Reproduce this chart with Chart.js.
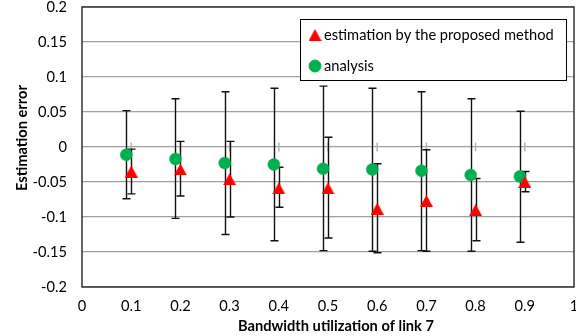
<!DOCTYPE html>
<html>
<head>
<meta charset="utf-8">
<script src="https://cdn.jsdelivr.net/npm/chart.js@4"></script>
<style>
  body { margin: 0; background: #fff; }
</style>
</head>
<body>
<canvas id="chart" width="576" height="336"></canvas>
<script>
// --- データ ---
const utilization = [0.1, 0.2, 0.3, 0.4, 0.5, 0.6, 0.7, 0.8, 0.9];

const estimation     = [-0.035, -0.032, -0.046, -0.059, -0.059, -0.088, -0.077, -0.090, -0.050];
const estimationLow  = [-0.067, -0.070, -0.100, -0.086, -0.130, -0.151, -0.149, -0.134, -0.064];
const estimationHigh = [-0.003, 0.008, 0.008, -0.029, 0.014, -0.024, -0.004, -0.045, -0.035];

const analysis     = [-0.011, -0.017, -0.023, -0.025, -0.031, -0.032, -0.034, -0.040, -0.042];
const analysisLow  = [-0.074, -0.102, -0.125, -0.134, -0.148, -0.149, -0.148, -0.149, -0.136];
const analysisHigh = [0.052, 0.069, 0.079, 0.084, 0.087, 0.084, 0.079, 0.069, 0.051];

// y=0 上の薄いグレーのマーク
const zeroMarks = [0, 0, 0, 0, 0, 0, 0, 0, 0];

const labels = ['estimation by the proposed method', 'analysis'];
const xTitle = 'Bandwidth utilization of link 7';
const yTitle = 'Estimation error';
// ---

const FONT = 'Lato';
const FONT_SIZE = 14.67;
const ANALYSIS_SHIFT = -0.01; // 緑の点は少し左にずれている

const RED = '#ff0000';
const GREEN = '#00b050';

// Excel風の三角マーカー (外接矩形の中心が値の位置)
function makeTriangle(w, h, color) {
    const c = document.createElement('canvas');
    c.width = w;
    c.height = h;
    const g = c.getContext('2d');
    g.fillStyle = color;
    g.beginPath();
    g.moveTo(w / 2, 0);
    g.lineTo(w, h);
    g.lineTo(0, h);
    g.closePath();
    g.fill();
    return c;
}
const triangleMarker = makeTriangle(13, 12, RED);

function toPoints(xs, ys, shift) {
    return xs.map((x, i) => ({ x: x + shift, y: ys[i] }));
}

// エラーバー (グレーのマークの後、点の前に描く)
const errorBarPlugin = {
    id: 'errorBars',
    afterDatasetDraw(chart, args) {
        if (args.index !== 2) return;
        const { ctx, scales: { x, y } } = chart;
        const bars = [
            { xs: utilization, shift: 0, low: estimationLow, high: estimationHigh },
            { xs: utilization, shift: ANALYSIS_SHIFT, low: analysisLow, high: analysisHigh }
        ];
        ctx.save();
        ctx.strokeStyle = '#111';
        ctx.lineWidth = 1.4;
        bars.forEach(b => {
            b.xs.forEach((v, i) => {
                const px = Math.round(x.getPixelForValue(v + b.shift)) + 0.5;
                const y1 = y.getPixelForValue(b.high[i]);
                const y2 = y.getPixelForValue(b.low[i]);
                ctx.beginPath();
                ctx.moveTo(px, y1);
                ctx.lineTo(px, y2);
                ctx.moveTo(px - 4, y1);
                ctx.lineTo(px + 4, y1);
                ctx.moveTo(px - 4, y2);
                ctx.lineTo(px + 4, y2);
                ctx.stroke();
            });
        });
        ctx.restore();
    }
};

// 枠線・軸タイトル・凡例
const framePlugin = {
    id: 'frame',
    afterDraw(chart) {
        const { ctx, chartArea: a } = chart;
        ctx.save();
        ctx.strokeStyle = '#333';
        ctx.lineWidth = 1.5;
        ctx.strokeRect(a.left, a.top, a.right - a.left, a.bottom - a.top);

        // 軸タイトル
        ctx.fillStyle = '#000';
        ctx.font = `bold ${FONT_SIZE}px ${FONT}`;
        ctx.textAlign = 'center';
        ctx.textBaseline = 'middle';
        ctx.fillText(xTitle, 336, 326);
        ctx.save();
        ctx.translate(22, 138);
        ctx.rotate(-Math.PI / 2);
        ctx.fillText(yTitle, 0, 0);
        ctx.restore();

        // 凡例
        const lx = 300.5, ly = 19.5, lw = 266, lh = 61;
        ctx.fillStyle = '#fff';
        ctx.fillRect(lx, ly, lw, lh);
        ctx.strokeStyle = '#000';
        ctx.lineWidth = 1;
        ctx.strokeRect(lx, ly, lw, lh);

        const rows = [35, 66];
        ctx.font = `${FONT_SIZE}px ${FONT}`;
        ctx.textAlign = 'left';
        [0, 1].forEach((di, k) => {
            const ds = chart.data.datasets[di];
            ctx.fillStyle = ds.backgroundColor;
            ctx.strokeStyle = ds.borderColor;
            Chart.helpers.drawPoint(ctx, {
                pointStyle: ds.pointStyle,
                radius: ds.pointRadius,
                borderWidth: ds.borderWidth,
                rotation: 0
            }, 315, rows[k]);
            ctx.fillStyle = '#000';
            ctx.fillText(labels[di], 324, rows[k]);
        });
        ctx.restore();
    }
};

new Chart(document.getElementById('chart'), {
    type: 'scatter',
    data: {
        datasets: [
            {
                label: labels[0],
                data: toPoints(utilization, estimation, 0),
                pointStyle: triangleMarker,
                pointRadius: 6.5,
                backgroundColor: RED,
                borderColor: RED,
                borderWidth: 0,
                order: 0
            },
            {
                label: labels[1],
                data: toPoints(utilization, analysis, ANALYSIS_SHIFT),
                pointStyle: 'circle',
                pointRadius: 6,
                backgroundColor: GREEN,
                borderColor: GREEN,
                borderWidth: 0.5,
                order: 1
            },
            {
                label: 'zero',
                data: toPoints(utilization, zeroMarks, 0),
                pointStyle: 'line',
                rotation: 90,
                pointRadius: 4.5,
                borderColor: '#b4b4b4',
                borderWidth: 1.5,
                order: 2
            }
        ]
    },
    options: {
        responsive: false,
        devicePixelRatio: 1,
        animation: false,
        layout: { autoPadding: false, padding: { top: 7, right: 2, left: 0, bottom: 0 } },
        plugins: {
            legend: { display: false },
            tooltip: { enabled: false }
        },
        scales: {
            x: {
                type: 'linear',
                min: 0,
                max: 1,
                ticks: {
                    stepSize: 0.1,
                    padding: 10,
                    color: '#000',
                    font: { family: FONT, size: FONT_SIZE },
                    maxRotation: 0,
                    callback: v => String(parseFloat(v.toFixed(1)))
                },
                grid: { display: false, drawTicks: false },
                border: { display: false },
                afterFit: s => { s.height = 49; s.paddingLeft = 0; s.paddingRight = 0; }
            },
            y: {
                min: -0.2,
                max: 0.2,
                ticks: {
                    stepSize: 0.05,
                    padding: 15,
                    color: '#000',
                    font: { family: FONT, size: FONT_SIZE },
                    callback: v => String(parseFloat(v.toFixed(2)))
                },
                grid: { color: '#a0a0a0', lineWidth: 1.3, drawTicks: false },
                border: { display: false },
                afterFit: s => { s.width = 82; s.paddingTop = 0; s.paddingBottom = 0; }
            }
        }
    },
    plugins: [errorBarPlugin, framePlugin]
});
</script>
</body>
</html>
